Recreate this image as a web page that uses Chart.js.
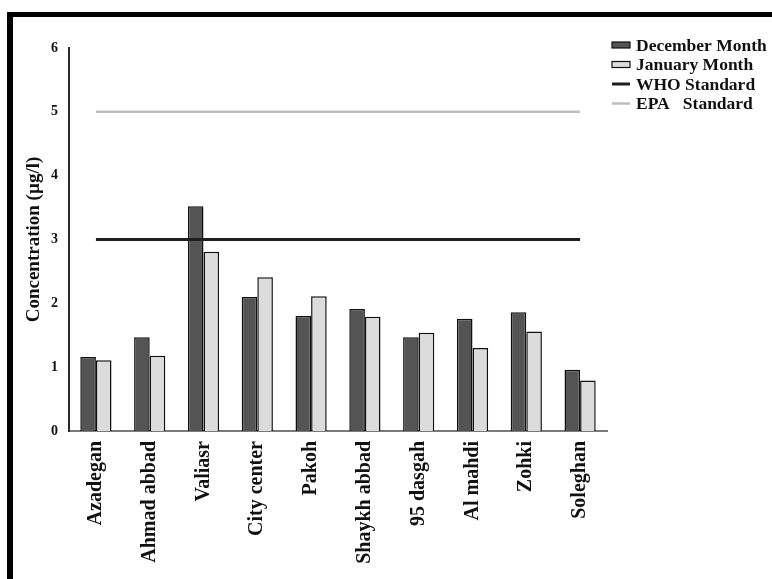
<!DOCTYPE html>
<html>
<head>
<meta charset="utf-8">
<script src="https://cdn.jsdelivr.net/npm/chart.js@4"></script>
<style>
    html, body { margin: 0; padding: 0; background: #fff; }
    #wrap { position: relative; width: 772px; height: 579px; overflow: hidden; }
    #frame {
        position: absolute; left: 7px; top: 12px; width: 900px; height: 700px;
        border-top: 5px solid #000; border-left: 6px solid #000; pointer-events: none;
    }
    canvas { position: absolute; left: 0; top: 0; }
</style>
</head>
<body>
<div id="wrap">
    <canvas id="chart" width="772" height="579"></canvas>
    <div id="frame"></div>
</div>
<script>
// data
const stations = ["Azadegan", "Ahmad abbad", "Valiasr", "City center", "Pakoh",
    "Shaykh abbad", "95 dasgah", "Al mahdi", "Zohki", "Soleghan"];
const december = [1.16, 1.47, 3.52, 2.10, 1.80, 1.91, 1.47, 1.76, 1.86, 0.96];
const january = [1.11, 1.18, 2.81, 2.41, 2.11, 1.79, 1.54, 1.30, 1.56, 0.79];
const whoStandard = 3;
const epaStandard = 5;
const yTicks = [0, 1, 2, 3, 4, 5, 6];

const serif = "'Liberation Serif', 'Times New Roman', serif";

// legend drawn by hand at the top right
const legendPlugin = {
    id: "sideLegend",
    afterDraw(chart) {
        const ctx = chart.ctx;
        const x0 = 612, x1 = 630, tx = 636;
        let y = 45;
        ctx.save();
        ctx.font = "bold 17.5px " + serif;
        ctx.textBaseline = "middle";
        ctx.textAlign = "left";
        chart.data.datasets.slice().sort((a, b) => a.legendIdx - b.legendIdx).forEach(ds => {
            if (ds.type === "line") {
                ctx.strokeStyle = ds.borderColor;
                ctx.lineWidth = ds.borderWidth;
                ctx.beginPath();
                ctx.moveTo(x0, y);
                ctx.lineTo(x1, y);
                ctx.stroke();
            } else {
                ctx.fillStyle = ds.backgroundColor;
                ctx.fillRect(x0, y - 3, x1 - x0, 6);
                ctx.strokeStyle = "#111";
                ctx.lineWidth = 1.2;
                ctx.strokeRect(x0, y - 3, x1 - x0, 6);
            }
            ctx.fillStyle = "#111";
            ctx.fillText(ds.label, tx, y + 1);
            y += 19.5;
        });
        ctx.restore();
    }
};

new Chart(document.getElementById("chart"), {
    data: {
        labels: stations,
        datasets: [
            {
                type: "line",
                label: "WHO Standard",
                legendIdx: 2,
                data: stations.map(() => whoStandard),
                borderColor: "#1e1e1e",
                borderWidth: 3,
                pointRadius: 0,
                order: 0
            },
            {
                type: "line",
                label: "EPA   Standard",
                legendIdx: 3,
                data: stations.map(() => epaStandard),
                borderColor: "#bdbdbd",
                borderWidth: 2.5,
                pointRadius: 0,
                order: 0
            },
            {
                type: "bar",
                label: "December Month",
                legendIdx: 0,
                data: december,
                backgroundColor: "#545454",
                borderColor: "#111",
                borderWidth: 1.5,
                order: 1
            },
            {
                type: "bar",
                label: "January Month",
                legendIdx: 1,
                data: january,
                backgroundColor: "#dcdcdc",
                borderColor: "#111",
                borderWidth: 1.5,
                order: 1
            }
        ]
    },
    options: {
        responsive: false,
        animation: false,
        categoryPercentage: 0.58,
        barPercentage: 1.0,
        layout: { padding: { left: 0, top: 48, right: 165, bottom: 0 } },
        plugins: {
            legend: { display: false },
            tooltip: { enabled: false }
        },
        scales: {
            x: {
                grid: { display: false, drawTicks: false },
                border: { display: true, color: "#7a7a7a", width: 2 },
                ticks: {
                    minRotation: 90,
                    maxRotation: 90,
                    autoSkip: false,
                    padding: 10,
                    color: "#111",
                    font: { family: serif, size: 20, weight: "bold" }
                },
                afterFit(scale) { scale.height = 148; }
            },
            y: {
                min: 0,
                max: 6,
                afterBuildTicks(scale) { scale.ticks = yTicks.map(v => ({ value: v })); },
                grid: { display: false, drawTicks: false },
                border: { display: true, color: "#2a2a2a", width: 2 },
                ticks: {
                    padding: 11,
                    color: "#111",
                    font: { family: serif, size: 14, weight: "bold" }
                },
                title: {
                    display: true,
                    text: "Concentration (µg/l)",
                    color: "#111",
                    padding: { top: 23, bottom: 0 },
                    font: { family: serif, size: 19, weight: "bold" }
                },
                afterFit(scale) { scale.width = 69; }
            }
        }
    },
    plugins: [legendPlugin]
});
</script>
</body>
</html>
